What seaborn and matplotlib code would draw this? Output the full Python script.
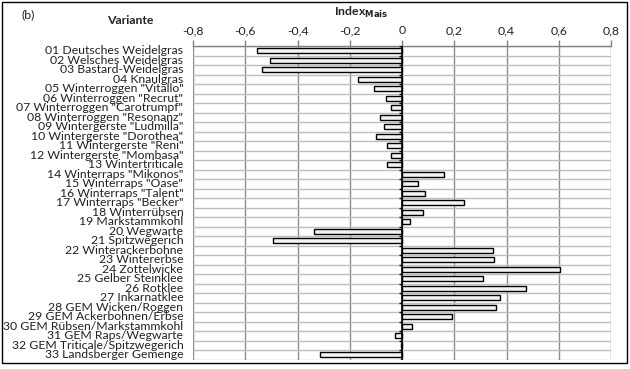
import numpy as np
import pandas as pd
import matplotlib
matplotlib.use("Agg")
import matplotlib.pyplot as plt
import seaborn as sns
from matplotlib.patches import Rectangle
from matplotlib.ticker import FuncFormatter

categories = [
    '01 Deutsches Weidelgras', '02 Welsches Weidelgras', '03 Bastard-Weidelgras',
    '04 Knaulgras', '05 Winterroggen "Vitallo"', '06 Winterroggen "Recrut"',
    '07 Winterroggen "Carotrumpf"', '08 Winterroggen "Resonanz"',
    '09 Wintergerste "Ludmilla"', '10 Wintergerste "Dorothea"',
    '11 Wintergerste "Reni"', '12 Wintergerste "Mombasa"', '13 Wintertriticale',
    '14 Winterraps "Mikonos"', '15 Winterraps "Oase"', '16 Winterraps "Talent"',
    '17 Winterraps "Becker"', '18 Winterrübsen', '19 Markstammkohl',
    '20 Wegwarte', '21 Spitzwegerich', '22 Winterackerbohne', '23 Wintererbse',
    '24 Zottelwicke', '25 Gelber Steinklee', '26 Rotklee', '27 Inkarnatklee',
    '28 GEM Wicken/Roggen', '29 GEM Ackerbohnen/Erbse',
    '30 GEM Rübsen/Markstammkohl', '31 GEM Raps/Wegwarte',
    '32 GEM Triticale/Spitzwegerich', '33 Landsberger Gemenge',
]
values = [
    -0.556, -0.504, -0.537, -0.170, -0.108, -0.062, -0.043, -0.083,
    -0.068, -0.098, -0.059, -0.041, -0.056, 0.159, 0.060, 0.088,
    0.238, 0.080, 0.029, -0.338, -0.495, 0.347, 0.354, 0.603,
    0.309, 0.473, 0.377, 0.358, 0.192, 0.040, -0.028, -0.004, -0.314,
]
x_ticks = [-0.8, -0.6, -0.4, -0.2, 0.0, 0.2, 0.4, 0.6, 0.8]

df = pd.DataFrame({"Variante": categories, "Index": values})

sns.set_theme(style="white")
plt.rcParams['font.family'] = ['Lato', 'DejaVu Sans']

fig = plt.figure(figsize=(6.3, 3.69), dpi=100)
ax = fig.add_axes([193/630, 1-359.5/369, (611-193)/630, (359.5-46)/369])

sns.barplot(data=df, x="Index", y="Variante", orient="h", ax=ax,
            color="#f2f2f2", edgecolor="black", linewidth=1.0, width=0.5,
            saturation=1)

ax.set_xlim(x_ticks[0], x_ticks[-1])
ax.set_ylim(len(categories) - 0.5, -0.5)
ax.xaxis.tick_top()
ax.set_xticks(x_ticks)
ax.xaxis.set_major_formatter(FuncFormatter(
    lambda v, p: ("%g" % round(v, 1)).replace(".", ",")))
ax.tick_params(axis="x", which="major", direction="out", length=4, width=1,
               color="#808080", labelsize=8.8, pad=3, labelcolor="#222222")
ax.tick_params(axis="y", which="both", length=0, labelsize=8.8, pad=7,
               labelcolor="#222222")
for lab in ax.get_yticklabels():
    lab.set_verticalalignment("center")

ax.set_yticks(np.arange(-0.5, len(categories), 1.0), minor=True)
ax.grid(False)
ax.grid(True, axis="y", which="minor", color="#bdbdbd", linewidth=1.0)
ax.grid(True, axis="x", which="major", color="#8c8c8c", linewidth=1.0)
ax.set_axisbelow(True)

for s in ["left", "right", "bottom"]:
    ax.spines[s].set_visible(False)
ax.spines["top"].set_color("#808080")
ax.spines["top"].set_linewidth(1.0)

ax.axvline(0, color="black", linewidth=1.2, zorder=3)
ax.hlines(np.arange(-0.5, len(categories), 1.0), -0.012, 0, color="black",
          linewidth=1.0, zorder=3)

ax.set_xlabel("")
ax.set_ylabel("")

fig.text(334/630, 1-12/369, r"Index$_{\mathbf{Mais}}$", fontsize=8.8,
         fontweight="bold", ha="left", va="center", color="#222222")
fig.text(130/630, 1-21/369, "Variante", fontsize=8.8, fontweight="bold",
         ha="center", va="center", color="#222222")
fig.text(22/630, 1-15/369, "(b)", fontsize=8.8, ha="left", va="center",
         color="#222222")

fig.patches.append(Rectangle((2/630, 1-363/369), 625/630, 361/369,
                             transform=fig.transFigure, fill=False,
                             edgecolor="black", linewidth=1.0))

fig.savefig("out.png", dpi=100)
